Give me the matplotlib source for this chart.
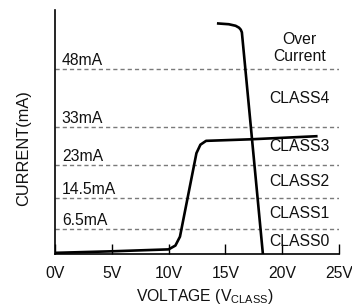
import matplotlib
matplotlib.use("Agg")
import matplotlib.pyplot as plt

plt.rcParams['font.family'] = ['Liberation Sans', 'DejaVu Sans']

# Class threshold currents (mA)
thresholds = [6.5, 14.5, 23, 33, 48]
threshold_labels = ["6.5mA", "14.5mA", "23mA", "33mA", "48mA"]
class_labels = ["CLASS0", "CLASS1", "CLASS2", "CLASS3", "CLASS4"]
class_centers = [3.25, 10.5, 18.75, 28, 40.5]
over_label = "Over\nCurrent"
over_center = 53.5

# Classification current curve (V, mA)
rise_v = [0, 5, 10, 10.6, 11.0, 12.45, 12.8, 13.3, 17.2, 23.0]
rise_i = [0.3, 0.7, 1.2, 2.2, 4.5, 26.2, 28.4, 29.4, 29.8, 30.6]

# Current-limit curve (V, mA)
fall_v = [14.37, 15.3, 15.9, 16.2, 16.35, 16.45, 17.1, 18.3]
fall_i = [59.9, 59.7, 59.3, 58.8, 58.3, 57.6, 37.4, 0.0]

xticks = [0, 5, 10, 15, 20, 25]
xticklabels = ["0V", "5V", "10V", "15V", "20V", "25V"]

fig = plt.figure(figsize=(3.52, 3.07), dpi=100)
ax = fig.add_axes([55/352, 53/307, 284/352, 244/307])
ax.set_xlim(0, 25)
ax.set_ylim(0, 63.4)

fs = 11.3
for t, lab in zip(thresholds, threshold_labels):
    ax.plot([0, 25], [t, t], color="#7a7a7a", lw=1.0, dashes=(3.0, 2.2), zorder=1)
    ax.text(0.6, t + 1.15, lab, fontsize=fs, ha="left", va="baseline", color="#111111")

for c, lab in zip(class_centers, class_labels):
    ax.text(21.5, c, lab, fontsize=fs, ha="center", va="center", color="#111111")
ax.text(21.5, over_center, over_label, fontsize=fs, ha="center", va="center",
        color="#111111", linespacing=1.12)

ax.plot(rise_v, rise_i, color="black", lw=1.9, solid_joinstyle="round", zorder=3)
ax.plot(fall_v, fall_i, color="black", lw=1.9, solid_joinstyle="round", zorder=3)

for s in ["top", "right"]:
    ax.spines[s].set_visible(False)
ax.spines["left"].set_linewidth(1.2)
ax.spines["bottom"].set_linewidth(1.2)

ax.set_xticks(xticks)
ax.set_xticklabels(xticklabels, fontsize=fs, color="#111111")
ax.tick_params(axis="x", direction="in", length=7, width=1.0, pad=9)
ax.set_yticks([])

fig.text(205/352, 1 - 296/307, "VOLTAGE (V$_{\\mathregular{CLASS}}$)", fontsize=fs,
         ha="center", va="center", color="#111111")
fig.text(24/352, 1 - 148/307, "CURRENT(mA)", fontsize=11.8, rotation=90,
         ha="center", va="center", color="#111111")

fig.savefig("out.png", dpi=100)
